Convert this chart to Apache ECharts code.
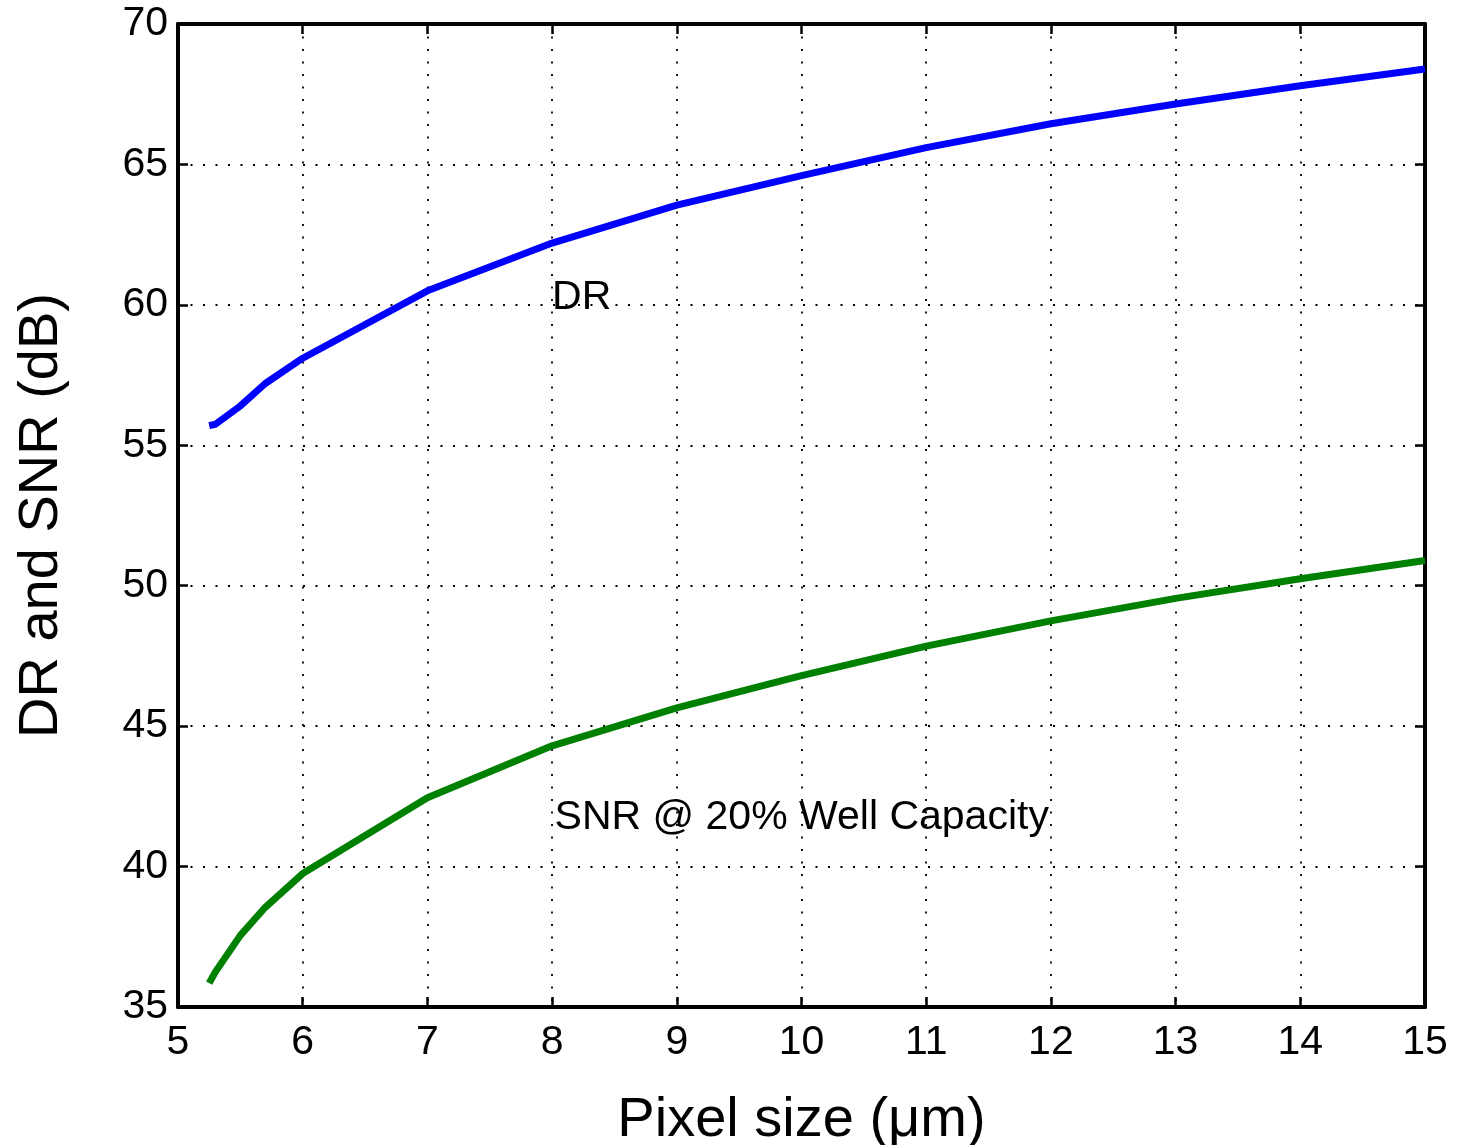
<!DOCTYPE html>
<html>
<head>
<meta charset="utf-8">
<script src="https://cdn.jsdelivr.net/npm/echarts@6/dist/echarts.min.js"></script>
<style>
  html, body { margin: 0; padding: 0; background: #fff; }
  #chart { width: 1457px; height: 1145px; }
</style>
</head>
<body>
<div id="chart"></div>
<script>
// pixel size (um) and the two curves (dB)
const pixelSize = [5.25, 5.3, 5.5, 5.7, 6, 7, 8, 9, 10, 11, 12, 13, 14, 15];
const drValues = [55.7, 55.75, 56.4, 57.2, 58.1, 60.5, 62.2, 63.55, 64.6, 65.6, 66.45, 67.15, 67.8, 68.4];
const snrValues = [35.85, 36.25, 37.55, 38.55, 39.75, 42.45, 44.3, 45.65, 46.8, 47.85, 48.75, 49.55, 50.25, 50.9];

const xTicks = [5, 15, 1];
const yTicks = [35, 70, 5];

const FONT = "Liberation Sans, Arial, sans-serif";

const zip = (xs, ys) => xs.map((x, i) => [x, ys[i]]);

const axisCommon = {
  axisLine: { show: true, onZero: false, lineStyle: { color: "#000", width: 4 } },
  axisTick: { show: true, inside: true, length: 10, lineStyle: { color: "#000", width: 2.5 } },
  axisLabel: { color: "#000", fontSize: 41, fontFamily: FONT },
};

const option = {
  animation: false,
  backgroundColor: "#fff",
  grid: { left: 178, right: 32, top: 24, bottom: 138, containLabel: false, outerBoundsMode: "none" },
  xAxis: [
    {
      ...axisCommon,
      type: "value",
      min: xTicks[0],
      max: xTicks[1],
      interval: xTicks[2],
      position: "bottom",
      axisLabel: { ...axisCommon.axisLabel, margin: 15 },
      splitLine: { show: true, lineStyle: { color: "#000", width: 1.8, type: [2, 10.5] } },
      name: "Pixel size (μm)",
      nameLocation: "middle",
      nameGap: 86,
      nameTextStyle: { color: "#000", fontSize: 56, fontFamily: FONT, verticalAlign: "top" },
    },
    {
      ...axisCommon,
      type: "value",
      min: xTicks[0],
      max: xTicks[1],
      interval: xTicks[2],
      position: "top",
      axisLabel: { show: false },
      splitLine: { show: false },
    },
  ],
  yAxis: [
    {
      ...axisCommon,
      type: "value",
      min: yTicks[0],
      max: yTicks[1],
      interval: yTicks[2],
      position: "left",
      axisLabel: { ...axisCommon.axisLabel, margin: 10 },
      splitLine: { show: true, lineStyle: { color: "#000", width: 1.8, type: [2, 10.5] } },
      name: "DR and SNR (dB)",
      nameLocation: "middle",
      nameGap: 108,
      nameTextStyle: { color: "#000", fontSize: 56, fontFamily: FONT },
    },
    {
      ...axisCommon,
      type: "value",
      min: yTicks[0],
      max: yTicks[1],
      interval: yTicks[2],
      position: "right",
      axisLabel: { show: false },
      splitLine: { show: false },
    },
  ],
  series: [
    {
      name: "DR",
      type: "line",
      data: zip(pixelSize, drValues),
      showSymbol: false,
      lineStyle: { color: "#0000ff", width: 7 },
      markPoint: {
        symbolSize: 0,
        data: [{ coord: [8, 60.25] }],
        label: {
          show: true,
          position: "right",
          distance: 0,
          formatter: "DR",
          color: "#000",
          fontSize: 41,
          fontFamily: FONT,
        },
      },
    },
    {
      name: "SNR",
      type: "line",
      data: zip(pixelSize, snrValues),
      showSymbol: false,
      lineStyle: { color: "#008000", width: 7 },
      markPoint: {
        symbolSize: 0,
        data: [{ coord: [8.02, 41.75] }],
        label: {
          show: true,
          position: "right",
          distance: 0,
          formatter: "SNR @ 20% Well Capacity",
          color: "#000",
          fontSize: 41,
          fontFamily: FONT,
        },
      },
    },
  ],
};

let myChart = echarts.init(document.getElementById("chart"));
myChart.setOption(option);
</script>
</body>
</html>
